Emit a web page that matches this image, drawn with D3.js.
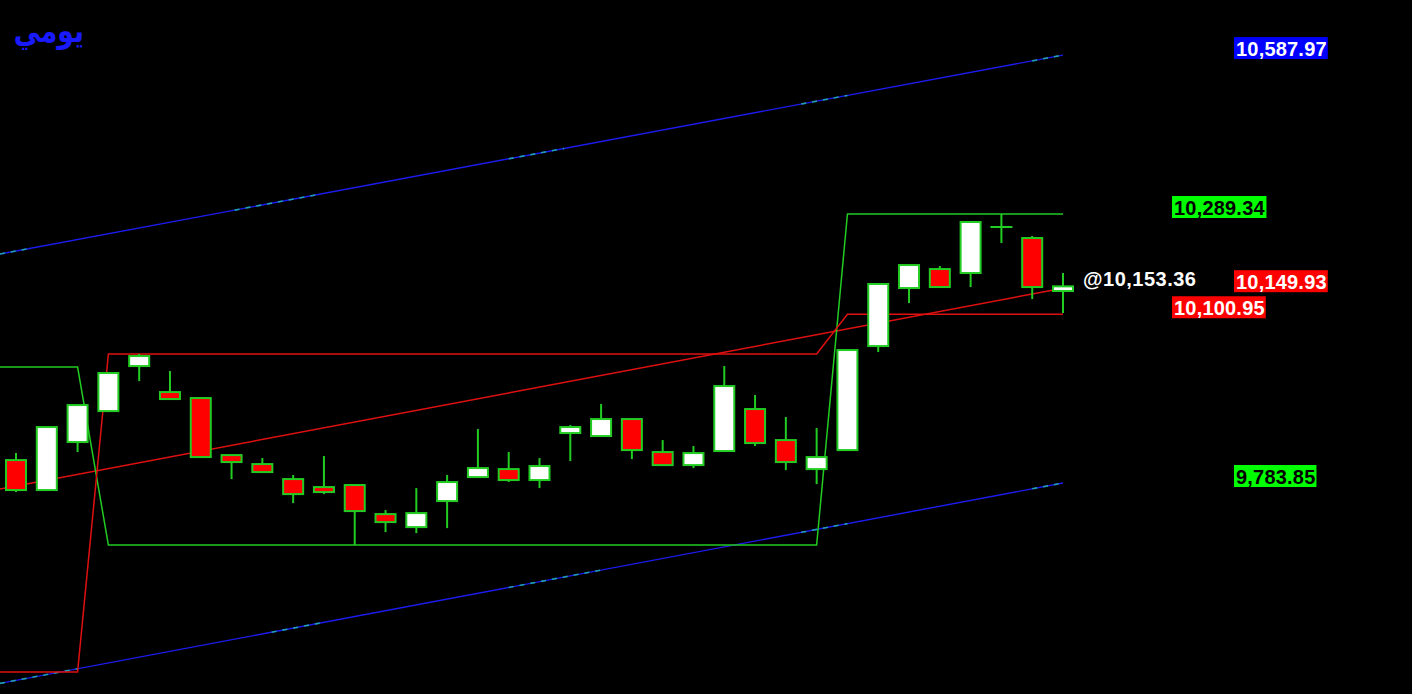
<!DOCTYPE html>
<html><head><meta charset="utf-8">
<script src="https://cdn.jsdelivr.net/npm/d3@7/dist/d3.min.js"></script>
<style>html,body{margin:0;padding:0;background:#000;overflow:hidden}</style>
</head><body>
<svg id="chart" width="1412" height="694"></svg>
<script>
// ---------- DATA ----------
const title = "يومي";
const opens  = [9826.9, 9770.6, 9860.8, 9919.0, 10003.6, 9954.7, 9943.5, 9836.3, 9819.4, 9791.2,
                9776.2, 9780.0, 9725.4, 9701.0, 9749.9, 9795.0, 9810.0, 9789.4, 9877.7, 9872.1,
                9904.0, 9842.0, 9817.5, 9843.9, 9922.8, 9864.5, 9810.0, 9845.7, 10041.2, 10150.2,
                10185.9, 10178.4, 10264.9, 10244.2, 10144.6];
const highs  = [9840.1, 9889.0, 9930.3, 9992.4, 10026.2, 9994.2, 9943.5, 9836.3, 9830.7, 9798.8,
                9834.5, 9780.0, 9733.0, 9774.3, 9798.8, 9885.2, 9842.0, 9830.7, 9892.7, 9932.2,
                9904.0, 9864.5, 9853.3, 10003.6, 9949.1, 9907.8, 9887.1, 10033.7, 10157.8, 10193.4,
                10191.6, 10274.3, 10289.34, 10248.0, 10178.4];
const lows   = [9766.8, 9770.6, 9842.0, 9917.1, 9975.4, 9941.6, 9832.6, 9791.2, 9804.4, 9746.1,
                9763.0, 9667.2, 9691.6, 9689.7, 9699.1, 9795.0, 9785.6, 9774.3, 9825.1, 9872.1,
                9828.8, 9817.5, 9811.9, 9843.9, 9853.3, 9808.1, 9781.8, 9845.7, 10029.9, 10122.0,
                10152.1, 10152.1, 10234.8, 10129.5, 10103.2];
const closes = [9770.6, 9889.0, 9930.3, 9990.5, 10022.4, 9941.6, 9832.6, 9823.2, 9804.4, 9763.0,
                9766.8, 9731.1, 9710.4, 9727.3, 9785.6, 9811.9, 9789.4, 9815.7, 9889.0, 9904.0,
                9845.7, 9817.5, 9840.1, 9966.0, 9858.9, 9823.2, 9832.6, 10033.7, 10157.8, 10193.4,
                10152.1, 10274.3, 10264.9, 10152.1, 10153.36];
// step levels per candle (3 + 24 + 8 = 35)
const greenLevels = [10001.8, 10001.8, 10001.8,
  9667.2, 9667.2, 9667.2, 9667.2, 9667.2, 9667.2, 9667.2, 9667.2, 9667.2, 9667.2, 9667.2, 9667.2,
  9667.2, 9667.2, 9667.2, 9667.2, 9667.2, 9667.2, 9667.2, 9667.2, 9667.2, 9667.2, 9667.2, 9667.2,
  10289.34, 10289.34, 10289.34, 10289.34, 10289.34, 10289.34, 10289.34, 10289.34];
const redLevels = [9428.5, 9428.5, 9428.5,
  10026.2, 10026.2, 10026.2, 10026.2, 10026.2, 10026.2, 10026.2, 10026.2, 10026.2, 10026.2, 10026.2, 10026.2,
  10026.2, 10026.2, 10026.2, 10026.2, 10026.2, 10026.2, 10026.2, 10026.2, 10026.2, 10026.2, 10026.2, 10026.2,
  10100.95, 10100.95, 10100.95, 10100.95, 10100.95, 10100.95, 10100.95, 10100.95];
// regression channel: value at first candle, value at last candle
const channelUpper = [10219.8, 10587.97];
const channelMid   = [9778.1, 10149.93];
const channelLower = [9413.0, 9783.85];
const lastPrice = 10153.36;
// price tags
const tagValues = [10587.97, 10289.34, 10149.93, 10100.95, 9783.85];
const tagColors = ["blue", "green", "red", "red", "green"];
const tagColumn = [1, 0, 1, 0, 1];

// ---------- LAYOUT ----------
const W = 1412, H = 694;
const svg = d3.select("#chart");
svg.append("rect").attr("width", W).attr("height", H).attr("fill", "#000");

const n = closes.length;
const x = d3.scaleLinear().domain([0, n - 1]).range([16, 1063]);
const y = d3.scaleLinear().domain([9783.85, 10289.34]).range([483, 214]);

const GREEN = "#22cc22", RED = "#e01010", BLUE = "#1c1cf0";
const bodyW = 20;
const idxLeft = x.invert(0);

const g = svg.append("g");

function chanPts(v) {
  const slope = (v[1] - v[0]) / (n - 1);
  return [[idxLeft, v[0] + slope * idxLeft], [n - 1, v[1]]];
}
const lineXY = d3.line().x(d => x(d[0])).y(d => y(d[1]));
[[channelUpper, BLUE], [channelLower, BLUE], [channelMid, RED]].forEach(([v, c]) => {
  g.append("path").attr("d", lineXY(chanPts(v))).attr("fill", "none")
    .attr("stroke", c).attr("stroke-width", 1.4);
});

// faint cyan aliasing on blue lines
const artTop = [[idxLeft, 0.5], [7.1, 9.9], [16.0, 17.8], [25.5, 27.0], [33.0, 34]];
const artBot = [[idxLeft, 2.0], [8.3, 9.9], [16.0, 19.0], [25.5, 27.0], [33.0, 34]];
function artifacts(v, ranges) {
  const slope = (v[1] - v[0]) / (n - 1);
  ranges.forEach(r => {
    const pts = r.map(i => [i, v[0] + slope * i]);
    g.append("path").attr("d", lineXY(pts)).attr("fill", "none")
      .attr("stroke", "#22b8a8").attr("stroke-width", 1.6)
      .attr("stroke-dasharray", "5,6").attr("opacity", 0.85);
  });
}
artifacts(channelUpper, artTop);
artifacts(channelLower, artBot);

// step lines
function stepPts(levels) {
  const pts = [[idxLeft, levels[0]]];
  levels.forEach((v, i) => pts.push([i, v]));
  return pts;
}
g.append("path").attr("d", lineXY(stepPts(greenLevels))).attr("fill", "none")
  .attr("stroke", GREEN).attr("stroke-width", 1.5);
g.append("path").attr("d", lineXY(stepPts(redLevels))).attr("fill", "none")
  .attr("stroke", RED).attr("stroke-width", 1.5);

// candles
const candles = d3.range(n).map(i => ({i, o: opens[i], h: highs[i], l: lows[i], c: closes[i]}));
const cg = g.selectAll("g.candle").data(candles).join("g").attr("class", "candle");
cg.append("line")
  .attr("x1", d => x(d.i)).attr("x2", d => x(d.i))
  .attr("y1", d => y(d.h)).attr("y2", d => y(d.l))
  .attr("stroke", GREEN).attr("stroke-width", 2);
cg.append("rect")
  .attr("x", d => x(d.i) - bodyW / 2)
  .attr("y", d => y(Math.max(d.o, d.c)))
  .attr("width", bodyW)
  .attr("height", d => Math.max(0.01, Math.abs(y(d.o) - y(d.c))))
  .attr("fill", d => d.c >= d.o ? "#ffffff" : "#ff0000")
  .attr("stroke", GREEN).attr("stroke-width", 2);

// title
svg.append("text")
  .attr("transform", "translate(84,42) scale(0.86,1.05)")
  .attr("text-anchor", "end")
  .attr("font-family", "'DejaVu Sans', sans-serif")
  .attr("font-weight", "bold").attr("font-size", 31)
  .attr("fill", "#1a1aff").text(title);

// price tags
const fontFam = "'Liberation Sans', Arial, sans-serif";
const colX = [1172, 1234];
const fmt = d3.format(",.2f");
const bg = {blue: "#0000ff", green: "#00ff00", red: "#ff0000"};
const fg = {blue: "#ffffff", green: "#000000", red: "#ffffff"};
tagValues.forEach((v, k) => {
  const cy = y(v) - 7;
  const tg = svg.append("g");
  const t = tg.append("text").attr("x", colX[tagColumn[k]] + 2).attr("y", cy + 1)
    .attr("dominant-baseline", "central")
    .attr("font-family", fontFam).attr("font-weight", "bold").attr("font-size", 20)
    .attr("letter-spacing", 0.2)
    .attr("fill", fg[tagColors[k]]).text(fmt(v));
  const bb = t.node().getBBox();
  tg.insert("rect", "text").attr("x", colX[tagColumn[k]]).attr("y", cy - 11)
    .attr("width", bb.width + 3).attr("height", 22).attr("fill", bg[tagColors[k]]);
});
svg.append("text").attr("x", 1083).attr("y", y(lastPrice) - 7)
  .attr("dominant-baseline", "central")
  .attr("font-family", fontFam).attr("font-weight", "bold").attr("font-size", 20)
  .attr("letter-spacing", 0.5)
  .attr("fill", "#ffffff").text("@" + fmt(lastPrice));
</script>
</body></html>
